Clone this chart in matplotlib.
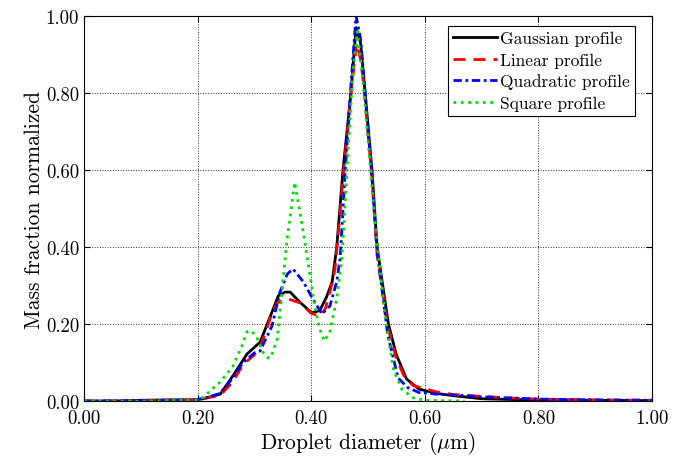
import matplotlib.pyplot as plt
from matplotlib.ticker import FormatStrFormatter

plt.rcParams['font.family'] = ['cmr10', 'DejaVu Serif']
plt.rcParams['mathtext.fontset'] = 'cm'
plt.rcParams['axes.formatter.use_mathtext'] = True

# Gaussian profile
xg = [0, 0.05, 0.10, 0.15, 0.19, 0.21, 0.24, 0.262, 0.287, 0.31, 0.331, 0.342, 0.354, 0.363,
      0.38, 0.401, 0.415, 0.427, 0.437, 0.445, 0.456, 0.47, 0.479, 0.487, 0.495, 0.507, 0.516,
      0.536, 0.55, 0.568, 0.59, 0.62, 0.65, 0.70, 0.75, 0.80, 0.90, 1.0]
yg = [0, 0, 0.002, 0.003, 0.003, 0.006, 0.018, 0.065, 0.122, 0.153, 0.231, 0.273, 0.283, 0.283,
      0.257, 0.229, 0.235, 0.27, 0.31, 0.40, 0.60, 0.80, 0.97, 0.93, 0.80, 0.60, 0.40,
      0.20, 0.12, 0.057, 0.031, 0.02, 0.014, 0.006, 0.004, 0.003, 0.002, 0.001]

# Linear profile
xl = [0, 0.1, 0.19, 0.21, 0.24, 0.262, 0.28, 0.30, 0.31, 0.32, 0.33, 0.34, 0.35, 0.36, 0.38,
      0.40, 0.415, 0.425, 0.433, 0.442, 0.455, 0.47, 0.48, 0.488, 0.495, 0.507, 0.516, 0.535,
      0.55, 0.565, 0.58, 0.60, 0.62, 0.65, 0.70, 0.75, 0.80, 0.90, 1.0]
yl = [0, 0.001, 0.003, 0.006, 0.015, 0.05, 0.095, 0.12, 0.14, 0.18, 0.225, 0.255, 0.262, 0.265, 0.255,
      0.228, 0.22, 0.24, 0.283, 0.343, 0.56, 0.80, 0.93, 0.88, 0.78, 0.58, 0.38, 0.19,
      0.11, 0.06, 0.04, 0.032, 0.024, 0.017, 0.012, 0.008, 0.005, 0.003, 0.002]

# Quadratic profile
xq = [0, 0.1, 0.19, 0.21, 0.24, 0.262, 0.28, 0.30, 0.31, 0.331, 0.345, 0.358, 0.368, 0.386,
      0.403, 0.419, 0.433, 0.445, 0.451, 0.46, 0.47, 0.479, 0.487, 0.495, 0.507, 0.516, 0.535,
      0.553, 0.57, 0.59, 0.62, 0.65, 0.70, 0.75, 0.80, 0.90, 1.0]
yq = [0, 0.001, 0.003, 0.006, 0.02, 0.06, 0.10, 0.125, 0.13, 0.195, 0.283, 0.33, 0.343, 0.31,
      0.265, 0.226, 0.247, 0.31, 0.37, 0.60, 0.82, 1.0, 0.94, 0.80, 0.58, 0.39, 0.17,
      0.06, 0.035, 0.022, 0.018, 0.016, 0.011, 0.008, 0.005, 0.003, 0.002]

# Square profile
xs = [0, 0.1, 0.15, 0.2, 0.21, 0.24, 0.262, 0.278, 0.287, 0.294, 0.304, 0.315, 0.324, 0.329,
      0.34, 0.345, 0.357, 0.371, 0.386, 0.398, 0.407, 0.415, 0.423, 0.433, 0.445, 0.454, 0.46,
      0.465, 0.473, 0.481, 0.49, 0.50, 0.51, 0.53, 0.545, 0.56, 0.58, 0.60, 0.67]
ys = [0, 0, 0.001, 0.003, 0.01, 0.05, 0.09, 0.143, 0.18, 0.183, 0.166, 0.127, 0.112, 0.113,
      0.16, 0.23, 0.413, 0.568, 0.44, 0.325, 0.24, 0.187, 0.156, 0.18, 0.265, 0.37, 0.52,
      0.65, 0.85, 0.96, 0.85, 0.68, 0.50, 0.22, 0.08, 0.03, 0.008, 0.002, 0.0]

ticks = [0, 0.2, 0.4, 0.6, 0.8, 1.0]

fig = plt.figure(figsize=(6.8, 4.6), dpi=100)
ax = fig.add_axes([0.1235, 0.126, 0.8353, 0.837])

ax.plot(xg, yg, '-', color='black', lw=2.0, label='Gaussian profile')
ax.plot(xl, yl, color='red', lw=2.0, dashes=(4.3, 2.9), label='Linear profile')
ax.plot(xq, yq, color='blue', lw=2.0, dashes=(3, 1.3, 1, 1.3), label='Quadratic profile')
ax.plot(xs, ys, ':', color='#00e000', lw=2.0, label='Square profile')

ax.set_xlim(0, 1)
ax.set_ylim(0, 1)
ax.set_xticks(ticks)
ax.set_yticks(ticks)
ax.xaxis.set_major_formatter(FormatStrFormatter('%.2f'))
ax.yaxis.set_major_formatter(FormatStrFormatter('%.2f'))
ax.tick_params(direction='in', top=True, right=True, labelsize=13.5, length=4)
ax.tick_params(axis='x', pad=5.5)
ax.grid(True, linestyle=':', color='black', lw=0.7, alpha=0.8)

ax.set_xlabel(r'Droplet diameter ($\mu$m)', fontsize=15.5, labelpad=2)
ax.set_ylabel('Mass fraction normalized', fontsize=15.5, labelpad=1)

leg = ax.legend(loc='upper right', bbox_to_anchor=(0.97, 0.975), fontsize=12.5,
                fancybox=False, edgecolor='black', framealpha=1, handlelength=2.5,
                handletextpad=0.2, borderpad=0.3, labelspacing=0.35, borderaxespad=0.0)
leg.get_frame().set_linewidth(0.8)

fig.savefig('out.png', dpi=100)
